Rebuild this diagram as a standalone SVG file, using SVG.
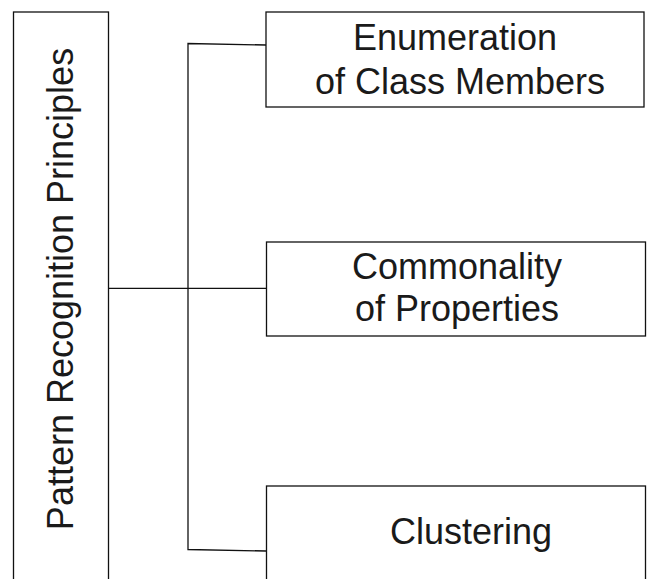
<svg xmlns="http://www.w3.org/2000/svg" width="647" height="579" viewBox="0 0 647 579">
<style>
.box{fill:#fff;stroke:#111;stroke-width:1.3}
.lbl{font-family:"Liberation Sans",Arial,sans-serif;font-size:36px;fill:#1a1a1a;text-anchor:middle}
.conn{fill:none;stroke:#111;stroke-width:1.3}
</style>
<rect width="647" height="579" fill="#fff"/>
<g id="connectors">
<polyline class="conn" points="266,45 188,43.5 188,549.5 266,551"/>
<line class="conn" x1="108.5" y1="288.3" x2="266" y2="288.3"/>
</g>
<g id="root">
<rect class="box" x="13.5" y="12" width="95" height="580"/>
<text class="lbl" transform="translate(73,289) rotate(-90)" x="0" y="0">Pattern Recognition Principles</text>
</g>
<g id="n1">
<rect class="box" x="266" y="12" width="378" height="95"/>
<text class="lbl" x="455" y="50">Enumeration</text>
<text class="lbl" x="460" y="94">of Class Members</text>
</g>
<g id="n2">
<rect class="box" x="266.5" y="242" width="379" height="94"/>
<text class="lbl" x="457" y="279">Commonality</text>
<text class="lbl" x="457" y="321">of Properties</text>
</g>
<g id="n3">
<rect class="box" x="266.5" y="486" width="379" height="110"/>
<text class="lbl" x="471" y="544">Clustering</text>
</g>
</svg>
